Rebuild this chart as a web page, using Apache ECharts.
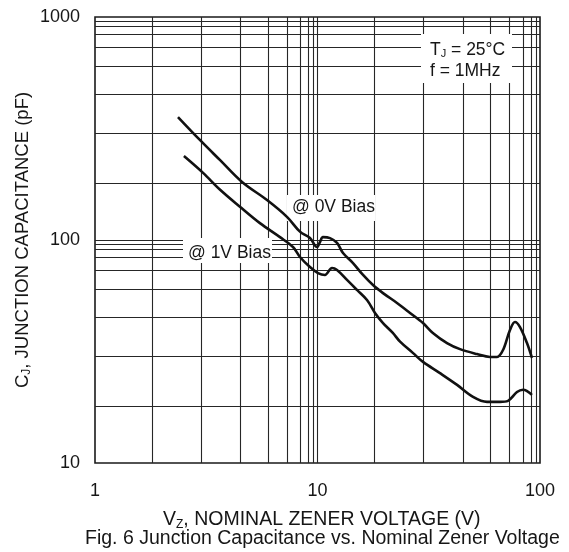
<!DOCTYPE html>
<html>
<head>
<meta charset="utf-8">
<script src="https://cdn.jsdelivr.net/npm/echarts@6/dist/echarts.min.js"></script>
<style>
html,body{margin:0;padding:0;background:#fff;}
#main{width:569px;height:552px;}
</style>
</head>
<body>
<div id="main"></div>
<script>
// Data (V_Z in volts, C_J in pF)
const bias0V_x = [2.36, 2.96, 3.65, 4.58, 5.93, 7.29, 8.34, 9.25, 9.95, 10.26, 10.58, 11.38, 12.24, 13.02, 14.44, 16.02, 17.76, 19.7, 22.77, 26.05, 29.8, 33.0, 38.2, 43.7, 52.1, 59.6, 64.1, 68.2, 73.3, 77.2, 81.3, 87.4, 92.0];
const bias0V_y = [356, 281, 228, 182, 151, 127, 109, 102, 93, 98, 103, 102, 97, 87.4, 78.8, 69.7, 62.8, 57.8, 52.2, 47.1, 42.4, 38.3, 34.5, 32.4, 30.8, 29.9, 29.9, 32.1, 39.5, 42.9, 40.7, 34.5, 29.6];
const bias1V_x = [2.51, 3.06, 3.65, 4.48, 5.51, 6.78, 7.76, 8.34, 9.25, 10.05, 10.8, 11.62, 12.24, 13.57, 15.05, 16.69, 18.13, 19.7, 21.8, 23.5, 26.9, 29.8, 35.5, 42.4, 50.0, 57.8, 66.1, 71.8, 78.8, 83.9, 92.0];
const bias1V_y = [238, 200, 168, 141, 119, 103, 93, 83.9, 75.6, 71.1, 69.7, 74.9, 73.4, 66.2, 59.7, 53.8, 47.1, 42.4, 38.3, 35.0, 31.1, 28.4, 25.3, 22.4, 19.8, 18.8, 18.8, 19.0, 20.8, 21.3, 20.2];

// Grid line positions (the chart's irregular grid within each decade)
const gridMantissas = [1.8, 3, 4.5, 6, 7.3, 8.4, 9.1, 9.6];
const xDecades = [1, 10];
const yDecades = [10, 100];
const xMajor = [10];
const yMajor = [100];

const xGridValues = [];
xDecades.forEach(d => gridMantissas.forEach(m => xGridValues.push(+(d * m).toFixed(3))));
xMajor.forEach(v => xGridValues.push(v));
const yGridValues = [];
yDecades.forEach(d => gridMantissas.forEach(m => yGridValues.push(+(d * m).toFixed(3))));
yMajor.forEach(v => yGridValues.push(v));

const pairs = (xs, ys) => xs.map((x, i) => [x, ys[i]]);

const FONT = '"Liberation Sans", Arial, sans-serif';
const TXT = '#161616';

const chart = echarts.init(document.getElementById('main'), null, {renderer: 'canvas'});
chart.setOption({
  backgroundColor: '#ffffff',
  animation: false,
  textStyle: {fontFamily: FONT},
  grid: {left: 95, right: 29, top: 17, bottom: 89, show: true, borderColor: '#1a1a1a', borderWidth: 1.6, backgroundColor: 'transparent'},
  xAxis: {
    type: 'log', logBase: 10, min: 1, max: 100, interval: 1,
    axisLine: {show: false}, axisTick: {show: false}, splitLine: {show: false},
    axisLabel: {color: TXT, fontSize: 18, margin: 19, fontFamily: FONT, formatter: v => String(v)}
  },
  yAxis: {
    type: 'log', logBase: 10, min: 10, max: 1000, interval: 1,
    axisLine: {show: false}, axisTick: {show: false}, splitLine: {show: false},
    axisLabel: {color: TXT, fontSize: 18, margin: 15, fontFamily: FONT, formatter: v => String(v)},
    name: '{a|C}{s|J}{a|, JUNCTION CAPACITANCE (pF)}',
    nameLocation: 'middle', nameGap: 62, nameRotate: 90, nameMoveOverlap: false,
    nameTextStyle: {
      rich: {
        a: {fontSize: 18.5, color: TXT, fontFamily: FONT},
        s: {fontSize: 12, color: TXT, fontFamily: FONT, padding: [9, 0, 0, 0]}
      }
    }
  },
  series: [
    {
      name: 'grid', type: 'line', data: [], z: 1, silent: true,
      markLine: {
        z: 1, silent: true, symbol: ['none', 'none'], animation: false,
        label: {show: false},
        lineStyle: {color: '#262626', width: 1.1, type: 'solid'},
        emphasis: {disabled: true},
        data: xGridValues.map(v => ({xAxis: v})).concat(yGridValues.map(v => ({yAxis: v})))
      }
    },
    {
      name: '@ 0V Bias', type: 'line', data: pairs(bias0V_x, bias0V_y), z: 6,
      smooth: 0.35, showSymbol: false, symbol: 'none',
      lineStyle: {color: '#111', width: 2.6}
    },
    {
      name: '@ 1V Bias', type: 'line', data: pairs(bias1V_x, bias1V_y), z: 6,
      smooth: 0.35, showSymbol: false, symbol: 'none',
      lineStyle: {color: '#111', width: 2.6}
    }
  ],
  graphic: [
    {type: 'rect', z: 3, shape: {x: 287, y: 195, width: 88, height: 26}, style: {fill: '#fff'}},
    {type: 'text', z: 4, left: 292, top: 198, style: {text: '@ 0V Bias', font: '17.5px ' + FONT, fill: TXT}},
    {type: 'rect', z: 3, shape: {x: 183, y: 238, width: 89, height: 25}, style: {fill: '#fff'}},
    {type: 'text', z: 4, left: 188, top: 244, style: {text: '@ 1V Bias', font: '17.5px ' + FONT, fill: TXT}},
    {type: 'rect', z: 3, shape: {x: 421, y: 34, width: 91, height: 49}, style: {fill: '#fff'}},
    {type: 'text', z: 4, left: 430, top: 41, style: {
      text: '{a|T}{s|J}{a| = 25°C}',
      rich: {a: {font: '17.5px ' + FONT, fill: TXT}, s: {font: '11px ' + FONT, fill: TXT, padding: [8, 0, 0, 0]}}
    }},
    {type: 'text', z: 4, left: 430, top: 62, style: {text: 'f = 1MHz', font: '17.5px ' + FONT, fill: TXT}},
    {type: 'text', z: 4, left: 163, top: 510, style: {
      text: '{a|V}{s|Z}{a|, NOMINAL ZENER VOLTAGE (V)}',
      rich: {a: {font: '19.5px ' + FONT, fill: TXT}, s: {font: '12px ' + FONT, fill: TXT, padding: [9, 0, 0, 0]}}
    }},
    {type: 'text', z: 4, left: 85, top: 529, style: {text: 'Fig. 6 Junction Capacitance vs. Nominal Zener Voltage', font: '19.5px ' + FONT, fill: TXT}}
  ]
});
</script>
</body>
</html>
